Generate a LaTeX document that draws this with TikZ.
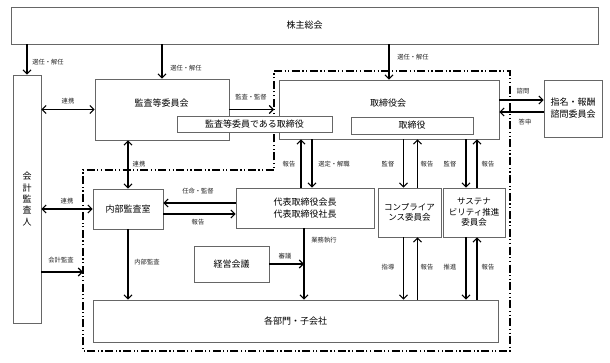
\documentclass[tikz,border=0pt]{standalone}
\usepackage{fontspec}
\setmainfont{Noto Sans CJK JP}
\usetikzlibrary{arrows.meta}

\begin{document}
\begin{tikzpicture}[x=1pt, y=-1pt, >={Straight Barb[length=4pt,width=8pt]},
    box/.style={draw=black!60, line width=0.7pt, fill=white, inner sep=0pt, align=center, font=\fontsize{9}{11}\selectfont},
    txt/.style={inner sep=0pt, align=center, font=\fontsize{9}{11}\selectfont},
    lbl/.style={inner sep=0pt, font=\fontsize{6.3}{7}\selectfont, text=black!85},
    arr/.style={->, line width=1.1pt},
    darr/.style={<->, line width=1.1pt},
    bnd/.style={line width=1.1pt, dash pattern=on 8pt off 2.5pt on 1.2pt off 2.5pt on 1.2pt off 2.5pt}]
    \useasboundingbox (0,0) rectangle (610,363);

    % group boundary
    \coordinate (bTL) at (274,71);
    \coordinate (bTR) at (510,71);
    \coordinate (bBR) at (510,351);
    \coordinate (bBL) at (83,351);
    \coordinate (bML) at (83,170);
    \coordinate (bMR) at (274,170);
    \coordinate (bAud) at (83,272);
    \draw[bnd] (bTL) -- (bTR) -- (bBR) -- (bBL) -- (bML) -- (bMR) -- cycle;

    % top and side boxes
    \node[box, minimum width=587pt, minimum height=37pt] (sh) at (304.5,25.5) {株主総会};
    \node[box, minimum width=28pt, minimum height=248pt, font=\fontsize{9}{11.3}\selectfont] (aud) at (27,199) {会\\計\\監\\査\\人};
    % audit committee and board
    \node[box, minimum width=134pt, minimum height=61pt] (kansa) at (162,109.5) {};
    \node[txt] (kansaT) at (161.5,103) {監査等委員会};
    \node[box, minimum width=220pt, minimum height=59pt] (board) at (389,109.5) {};
    \node[txt] (boardT) at (388,103) {取締役会};
    \node[box, minimum width=155pt, minimum height=16pt] (dirK) at (254.5,124.5) {監査等委員である取締役};
    \node[box, minimum width=122pt, minimum height=17pt] (dir) at (412,125.5) {取締役};
    \node[box, minimum width=58pt, minimum height=57pt, font=\fontsize{9}{12}\selectfont] (nom) at (573,108.5) {指名・報酬\\諮問委員会};
    % executive side
    \node[box, minimum width=70pt, minimum height=40pt] (iad) at (128,209) {内部監査室};
    \node[box, minimum width=138pt, minimum height=40pt, font=\fontsize{9}{12}\selectfont] (ceo) at (305,208) {代表取締役会長\\代表取締役社長};
    \node[box, minimum width=63pt, minimum height=49pt, font=\fontsize{8.5}{10.5}\selectfont] (comp) at (409.5,212.5) {コンプライア\\ンス委員会};
    \node[box, minimum width=62pt, minimum height=49pt, font=\fontsize{8.5}{10.5}\selectfont] (sus) at (474,212.5) {サステナ\\ビリティ推進\\委員会};
    \node[box, minimum width=75pt, minimum height=36pt] (mgmt) at (231.5,264) {経営会議};
    \node[box, minimum width=405pt, minimum height=42pt] (dept) at (295.5,321) {各部門・子会社};

    % from shareholders
    \draw[arr] (aud.north |- sh.south) -- (aud.north);
    \draw[arr] (kansa.north |- sh.south) -- (kansa.north);
    \draw[arr] (board.north |- sh.south) -- (board.north);

    % auditor links
    \draw[darr] (kansa.west -| aud.east) -- (kansa.west);
    \draw[darr] (iad.west -| aud.east) -- (iad.west);
    \draw[arr] (bAud -| aud.east) -- (bAud);

    % audit committee
    \draw[arr] (kansa.east) -- (kansa.east -| bTL);
    \draw[darr] (iad.north |- kansa.south) -- (iad.north);

    % board and nomination committee
    \draw[arr] ([yshift=8.5pt]nom.west -| board.east) -- ([yshift=8.5pt]nom.west);
    \draw[arr] ([yshift=-3.5pt]nom.west) -- ([yshift=-3.5pt]nom.west -| board.east);

    % board and president
    \draw[arr] ([xshift=-4pt]ceo.north) -- ([xshift=-4pt]ceo.north |- board.south);
    \draw[arr] ([xshift=7pt]ceo.north |- board.south) -- ([xshift=7pt]ceo.north);
    \draw[arr] ([yshift=5pt]ceo.west) -- ([yshift=5pt]ceo.west -| iad.east);
    \draw[arr] ([yshift=-5pt]iad.east) -- ([yshift=-5pt]iad.east -| ceo.west);

    % committees
    \draw[arr] ([xshift=-6pt]comp.north |- board.south) -- ([xshift=-6pt]comp.north);
    \draw[arr] ([xshift=8pt]comp.north) -- ([xshift=8pt]comp.north |- board.south);
    \draw[arr] ([xshift=-8pt]sus.north |- board.south) -- ([xshift=-8pt]sus.north);
    \draw[arr] ([xshift=3pt]sus.north) -- ([xshift=3pt]sus.north |- board.south);
    \draw[arr] ([xshift=-6pt]comp.south) -- ([xshift=-6pt]comp.south |- dept.north);
    \draw[arr] ([xshift=8pt]comp.south |- dept.north) -- ([xshift=8pt]comp.south);
    \draw[arr] ([xshift=-8pt]sus.south) -- ([xshift=-8pt]sus.south |- dept.north);
    \draw[arr] ([xshift=3pt]sus.south |- dept.north) -- ([xshift=3pt]sus.south);

    % down to departments
    \draw[arr] (iad.south) -- (iad.south |- dept.north);
    \draw[arr] ([xshift=-1pt]ceo.south) -- ([xshift=-1pt]ceo.south |- dept.north);
    \draw[arr] (mgmt.east) -- ([xshift=-1pt]mgmt.east -| ceo.south);

    % labels
    \node[lbl] (lSel1) at (48,62) {選任・解任};
    \node[lbl] (lSel2) at (186,68) {選任・解任};
    \node[lbl] (lSel3) at (413,57) {選任・解任};
    \node[lbl] (lLink1) at (68,101) {連携};
    \node[lbl] (lLink2) at (139,164) {連携};
    \node[lbl] (lLink3) at (67,201) {連携};
    \node[lbl] (lSup) at (251,97) {監査・監督};
    \node[lbl] (lAsk) at (523,91) {諮問};
    \node[lbl] (lAns) at (525,122) {答申};
    \node[lbl] (lAppt) at (198,191) {任命・監督};
    \node[lbl] (lRepI) at (198,222) {報告};
    \node[lbl] (lRepC) at (289,164) {報告};
    \node[lbl] (lSelC) at (334,164) {選定・解職};
    \node[lbl] (lSupA) at (388,164) {監督};
    \node[lbl] (lRepA) at (427,164) {報告};
    \node[lbl] (lSupB) at (450,164) {監督};
    \node[lbl] (lRepB) at (488,164) {報告};
    \node[lbl] (lExec) at (324,240) {業務執行};
    \node[lbl] (lDel) at (285,256) {審議};
    \node[lbl] (lIntA) at (147,262) {内部監査};
    \node[lbl] (lAccA) at (61,260) {会計監査};
    \node[lbl] (lGuid) at (388,267) {指導};
    \node[lbl] (lRepD) at (427,267) {報告};
    \node[lbl] (lProm) at (450,267) {推進};
    \node[lbl] (lRepE) at (488,267) {報告};
\end{tikzpicture}
\end{document}
